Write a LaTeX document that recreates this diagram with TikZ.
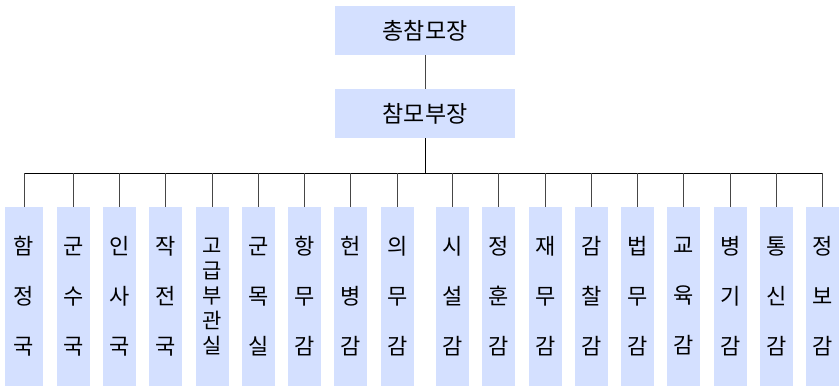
\documentclass[tikz,border=0pt]{standalone}
\usepackage{fontspec}
\newfontfamily\kr{Noto Sans CJK KR}
\definecolor{boxblue}{RGB}{212,224,255}
\definecolor{linegray}{RGB}{70,70,70}
\tikzset{
  topbox/.style={fill=boxblue, draw=none, minimum width=180pt, minimum height=49pt, inner sep=0pt, font=\kr\fontsize{23}{26}\selectfont},
  deptbox/.style={fill=boxblue, draw=none, minimum width=33pt, minimum height=179pt, inner sep=0pt, align=center, font=\kr\fontsize{22}{50}\selectfont},
  tightbox/.style={deptbox, font=\kr\fontsize{21}{25}\selectfont},
  conn/.style={draw=linegray, line width=1pt},
  busline/.style={draw=black, line width=1pt}
}
\begin{document}
\begin{tikzpicture}[x=1pt,y=-1pt]
\useasboundingbox (0,0) rectangle (839,386);
\node[topbox] (p1) at (425,30.5) {총참모장};
\node[topbox] (p2) at (425,113.5) {참모부장};
\coordinate (bus) at (0,173);
\node[deptbox, minimum width=38pt] (b1) at (24,296.5) {함\\정\\국};
\node[deptbox] (b2) at (73.5,296.5) {군\\수\\국};
\node[deptbox] (b3) at (119.5,296.5) {인\\사\\국};
\node[deptbox] (b4) at (165.5,296.5) {작\\전\\국};
\node[tightbox] (b5) at (212.5,296.5) {고\\급\\부\\관\\실};
\node[deptbox] (b6) at (258.5,296.5) {군\\목\\실};
\node[deptbox] (b7) at (304.5,296.5) {항\\무\\감};
\node[deptbox] (b8) at (350.5,296.5) {헌\\병\\감};
\node[deptbox] (b9) at (397.5,296.5) {의\\무\\감};
\node[deptbox] (b10) at (452.5,296.5) {시\\설\\감};
\node[deptbox] (b11) at (498.5,296.5) {정\\훈\\감};
\node[deptbox] (b12) at (545.5,296.5) {재\\무\\감};
\node[deptbox] (b13) at (591.5,296.5) {감\\찰\\감};
\node[deptbox] (b14) at (637.5,296.5) {법\\무\\감};
\node[deptbox] (b15) at (683.5,296.5) {교\\육\\감};
\node[deptbox] (b16) at (730.5,296.5) {병\\기\\감};
\node[deptbox] (b17) at (776.5,296.5) {통\\신\\감};
\node[deptbox] (b18) at (822.5,296.5) {정\\보\\감};
\draw[conn] (p1.south) -- (p2.north);
\draw[busline] (p2.south) -- (p2.south |- bus);
\draw[busline] (b1.north |- bus) -- (b18.north |- bus);
\foreach \i in {1,...,18} {
  \draw[conn] (b\i.north) -- (b\i.north |- bus);
}
\end{tikzpicture}
\end{document}
